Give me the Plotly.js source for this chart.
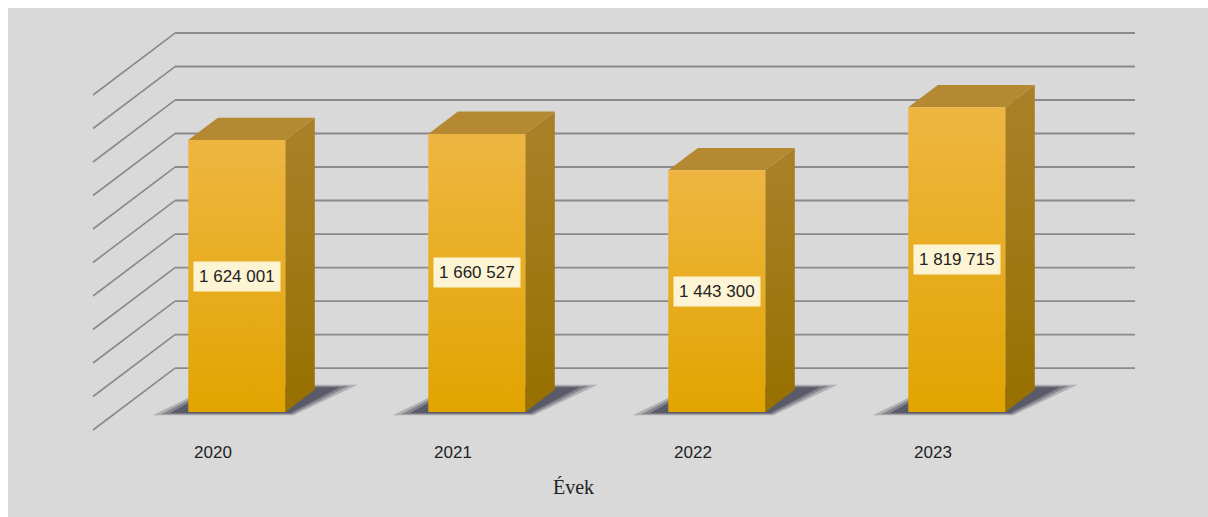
<!DOCTYPE html>
<html><head><meta charset="utf-8">
<script src="https://cdn.plot.ly/plotly-3.0.1.min.js"></script>
<style>html,body{margin:0;padding:0;background:#fff;} #chart{position:absolute;left:8px;top:8px;width:1200px;height:509px;}</style>
</head><body><div id="chart"></div>
<script>
// ---- data ----
const years = ['2020', '2021', '2022', '2023'];
const values = [1624001, 1660527, 1443300, 1819715];
const valueLabels = ['1 624 001', '1 660 527', '1 443 300', '1 819 715'];
const gridValues = [0, 200000, 400000, 600000, 800000, 1000000, 1200000, 1400000, 1600000, 1800000, 2000000];
const axisTitle = 'Évek';

// ---- oblique 3D projection (depth z: 0 = front of floor, 1 = back wall) ----
const DX = 0.3417, DY = 370000;
const ZF = 0.29, ZB = 0.65, HW = 0.202;
const X0 = -0.5, X1 = 3.5;
function P(x, z, v) { return [x + z * DX, v + z * DY]; }
function poly(pts) { return {x: pts.map(p => p[0]).concat([pts[0][0]]), y: pts.map(p => p[1]).concat([pts[0][1]])}; }

const traces = [];
// back wall gridlines
(function () {
  const xs = [], ys = [];
  gridValues.forEach(g => { const a = P(X0, 1, g), b = P(X1, 1, g); xs.push(a[0], b[0], null); ys.push(a[1], b[1], null); });
  traces.push({type: 'scatter', mode: 'lines', x: xs, y: ys, line: {color: '#8a8a8a', width: 1.8}, hoverinfo: 'skip', showlegend: false});
})();
// side wall diagonals
(function () {
  const xs = [], ys = [];
  gridValues.forEach(g => { const a = P(X0, 1, g), b = P(X0, 0, g); xs.push(a[0], b[0], null); ys.push(a[1], b[1], null); });
  traces.push({type: 'scatter', mode: 'lines', x: xs, y: ys, line: {color: '#8a8a8a', width: 1.6}, hoverinfo: 'skip', showlegend: false});
})();

years.forEach((yr, i) => {
  const xc = i, v = values[i];
  // soft shadow on floor (layered for a blurred edge)
  [[0.13, 0.05, 0.08, 0.25], [0.1, 0.035, 0.06, 0.35], [0.07, 0.02, 0.04, 0.5]].forEach(([e, zf, zb, op]) => {
    const pts = [P(xc - HW - e, ZF - zf, 0), P(xc + HW + e * 0.4, ZF - zf, 0), P(xc + HW + e + 0.02, ZB + zb, 0), P(xc - HW - e * 0.3, ZB + zb, 0)];
    const pp = poly(pts);
    traces.push({type: 'scatter', mode: 'lines', x: pp.x, y: pp.y, fill: 'toself', fillcolor: 'rgba(50,50,68,' + op + ')', line: {width: 0}, hoverinfo: 'skip', showlegend: false});
  });
  // side face
  let pp = poly([P(xc + HW, ZF, 0), P(xc + HW, ZB, 0), P(xc + HW, ZB, v), P(xc + HW, ZF, v)]);
  traces.push({type: 'scatter', mode: 'lines', x: pp.x, y: pp.y, fill: 'toself', line: {width: 0},
    fillgradient: {type: 'vertical', colorscale: [[0, '#977000'], [1, '#aa8129']]}, hoverinfo: 'skip', showlegend: false});
  // top face
  pp = poly([P(xc - HW, ZF, v), P(xc + HW, ZF, v), P(xc + HW, ZB, v), P(xc - HW, ZB, v)]);
  traces.push({type: 'scatter', mode: 'lines', x: pp.x, y: pp.y, fill: 'toself', fillcolor: '#b48931', line: {width: 0}, hoverinfo: 'skip', showlegend: false});
  // front face
  pp = poly([P(xc - HW, ZF, 0), P(xc + HW, ZF, 0), P(xc + HW, ZF, v), P(xc - HW, ZF, v)]);
  traces.push({type: 'scatter', mode: 'lines', x: pp.x, y: pp.y, fill: 'toself', line: {width: 0},
    fillgradient: {type: 'vertical', colorscale: [[0, '#e2a400'], [1, '#eeb641']]}, hoverinfo: 'skip', showlegend: false});
});

const annotations = years.map((yr, i) => {
  const c = P(i, ZF, values[i] / 2);
  return {x: c[0], y: c[1], xref: 'x', yref: 'y', text: valueLabels[i], showarrow: false,
    bgcolor: '#fdf4d3', borderpad: 5, font: {family: 'Liberation Sans, Arial, sans-serif', size: 17, color: '#222'}};
});
annotations.push({x: 1.5, xref: 'x', y: -0.111, yref: 'paper', yanchor: 'middle', text: axisTitle, showarrow: false,
  font: {family: 'Liberation Serif, serif', size: 20, color: '#222'}});

const layout = {
  width: 1200, height: 509,
  paper_bgcolor: '#d9d9d9', plot_bgcolor: 'rgba(0,0,0,0)',
  margin: {l: 73, r: 47, t: 10, b: 77},
  showlegend: false,
  xaxis: {range: [-0.55, 3.95], tickvals: [0, 1, 2, 3], ticktext: years, showgrid: false, zeroline: false, showline: false,
    ticks: '', tickfont: {family: 'Liberation Sans, Arial, sans-serif', size: 17, color: '#222'}, fixedrange: true},
  yaxis: {range: [-59700, 2459700], visible: false, showgrid: false, zeroline: false, fixedrange: true},
  annotations: annotations
};
Plotly.newPlot('chart', traces, layout, {displayModeBar: false, staticPlot: true});
</script></body></html>
